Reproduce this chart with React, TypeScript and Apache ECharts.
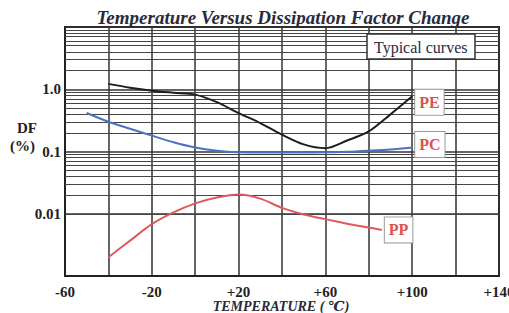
import React, { useEffect, useRef } from "react";
import * as echarts from "echarts";

const peTemps = [-40, -30, -20, -10, 0, 10, 20, 30, 40, 50, 60, 70, 80, 90, 100];
const peValues = [1.22, 1.06, 0.95, 0.88, 0.82, 0.62, 0.415, 0.286, 0.186, 0.13, 0.113, 0.15, 0.21, 0.395, 0.77];
const pcTemps = [-50, -40, -30, -20, -10, 0, 10, 20, 30, 40, 50, 60, 70, 80, 90, 100];
const pcValues = [0.415, 0.3, 0.232, 0.18, 0.141, 0.116, 0.103, 0.097, 0.096, 0.096, 0.096, 0.097, 0.099, 0.103, 0.108, 0.116];
const ppTemps = [-40, -30, -20, -10, 0, 10, 20, 30, 40, 50, 60, 70, 80, 86];
const ppValues = [0.002, 0.0037, 0.0068, 0.0105, 0.0147, 0.0183, 0.0204, 0.0175, 0.0124, 0.0097, 0.0082, 0.0069, 0.006, 0.0055];
const xTickLabels = ["-60", "-20", "+20", "+60", "+100", "+140"];
const yTickLabels: Record<string, string> = { "0": "1.0", "-1": "0.1", "-2": "0.01" };
const decades = [-3, -2, -1, 0];
const minorSteps = [2, 3, 4, 5, 6, 7, 8, 9];

const FONT = "'Liberation Serif', 'DejaVu Serif', serif";

export default function App() {
  const ref = useRef<HTMLDivElement>(null);
  useEffect(() => {
    if (!ref.current) return;
    const chart = echarts.init(ref.current, undefined, { renderer: "svg" });
    const pair = (t: number[], v: number[]) => t.map((x, i) => [x, v[i]]);
    const minorLines: any[] = [];
    decades.forEach((d) =>
      minorSteps.forEach((k) => minorLines.push({ yAxis: k * Math.pow(10, d) }))
    );
    const labelBox = (color: string) => ({
      show: true,
      formatter: "{a}",
      color,
      fontFamily: FONT,
      fontWeight: "bold",
      fontSize: 16,
      backgroundColor: "#fff",
      borderColor: "#999",
      borderWidth: 1,
      padding: [5, 4, 4, 4],
      distance: 3,
    });
    chart.setOption({
      animation: false,
      backgroundColor: "#fff",
      title: [
        {
          text: "Temperature Versus Dissipation Factor Change",
          left: 278,
          textAlign: "center",
          top: 3,
          textStyle: {
            fontFamily: FONT,
            fontStyle: "italic",
            fontWeight: "bold",
            fontSize: 19,
            color: "#2a2a3a",
          },
        },
        {
          text: "Typical curves",
          left: 367,
          top: 34,
          backgroundColor: "#fff",
          borderColor: "#333",
          borderWidth: 1.5,
          padding: [5, 8, 4, 7],
          textStyle: {
            fontFamily: FONT,
            fontWeight: "normal",
            fontSize: 16,
            color: "#2a2a44",
          },
        },
      ],
      grid: {
        left: 65,
        right: 10,
        top: 27,
        bottom: 37,
        show: true,
        borderColor: "#222",
        borderWidth: 2,
        outerBoundsMode: "none",
        containLabel: false,
      },
      xAxis: {
        type: "value",
        min: -60,
        max: 140,
        interval: 20,
        axisLine: { show: true, onZero: false, lineStyle: { color: "#222", width: 2 } },
        axisTick: { show: false },
        splitLine: { show: true, lineStyle: { color: "#333", width: 1.5 } },
        axisLabel: {
          margin: 8,
          fontFamily: FONT,
          fontWeight: "bold",
          fontSize: 15,
          color: "#222",
          formatter: (v: number) => {
            const s = v > 0 ? "+" + v : String(v);
            return xTickLabels.includes(s) ? s : "";
          },
        },
      },
      yAxis: {
        type: "log",
        logBase: 10,
        min: 0.001,
        max: 10,
        axisLine: { show: true, onZero: false, lineStyle: { color: "#222", width: 2 } },
        axisTick: { show: false },
        splitLine: { show: true, lineStyle: { color: "#333", width: 1.5 } },
        axisLabel: {
          margin: 4,
          fontFamily: FONT,
          fontWeight: "bold",
          fontSize: 15,
          color: "#222",
          formatter: (v: number) => yTickLabels[String(Math.round(Math.log10(v)))] || "",
        },
      },
      graphic: [
        {
          type: "text",
          left: 17,
          top: 120,
          style: { text: "DF", font: `bold 15px ${FONT}`, fill: "#222" },
        },
        {
          type: "text",
          left: 10,
          top: 138,
          style: { text: "(%)", font: `bold 15px ${FONT}`, fill: "#222" },
        },
        {
          type: "text",
          x: 281,
          y: 306,
          style: {
            text: "TEMPERATURE ( ℃)",
            font: `italic bold 14px ${FONT}`,
            fill: "#2a2a3a",
            align: "center",
            verticalAlign: "middle",
          },
        },
      ],
      series: [
        {
          type: "line",
          name: "grid",
          data: [],
          silent: true,
          z: 1,
          markLine: {
            silent: true,
            symbol: "none",
            label: { show: false },
            lineStyle: { color: "#444", width: 1.2, type: "solid" },
            data: minorLines,
          },
        },
        {
          type: "line",
          name: "PE",
          data: pair(peTemps, peValues),
          smooth: 0.3,
          showSymbol: false,
          z: 5,
          lineStyle: { color: "#1e1e1e", width: 2 },
          endLabel: { ...labelBox("#e0504a"), offset: [0, 6] },
        },
        {
          type: "line",
          name: "PC",
          data: pair(pcTemps, pcValues),
          smooth: 0.3,
          showSymbol: false,
          z: 5,
          lineStyle: { color: "#4a72c0", width: 2 },
          endLabel: { ...labelBox("#e0504a"), offset: [0, -3] },
        },
        {
          type: "line",
          name: "PP",
          data: pair(ppTemps, ppValues),
          smooth: 0.3,
          showSymbol: false,
          z: 5,
          lineStyle: { color: "#de5a5e", width: 2 },
          endLabel: { ...labelBox("#e0504a"), offset: [0, 0] },
        },
      ],
    });
    return () => chart.dispose();
  }, []);
  return <div ref={ref} style={{ width: 509, height: 313, position: "absolute", left: 0, top: 0 }} />;
}
